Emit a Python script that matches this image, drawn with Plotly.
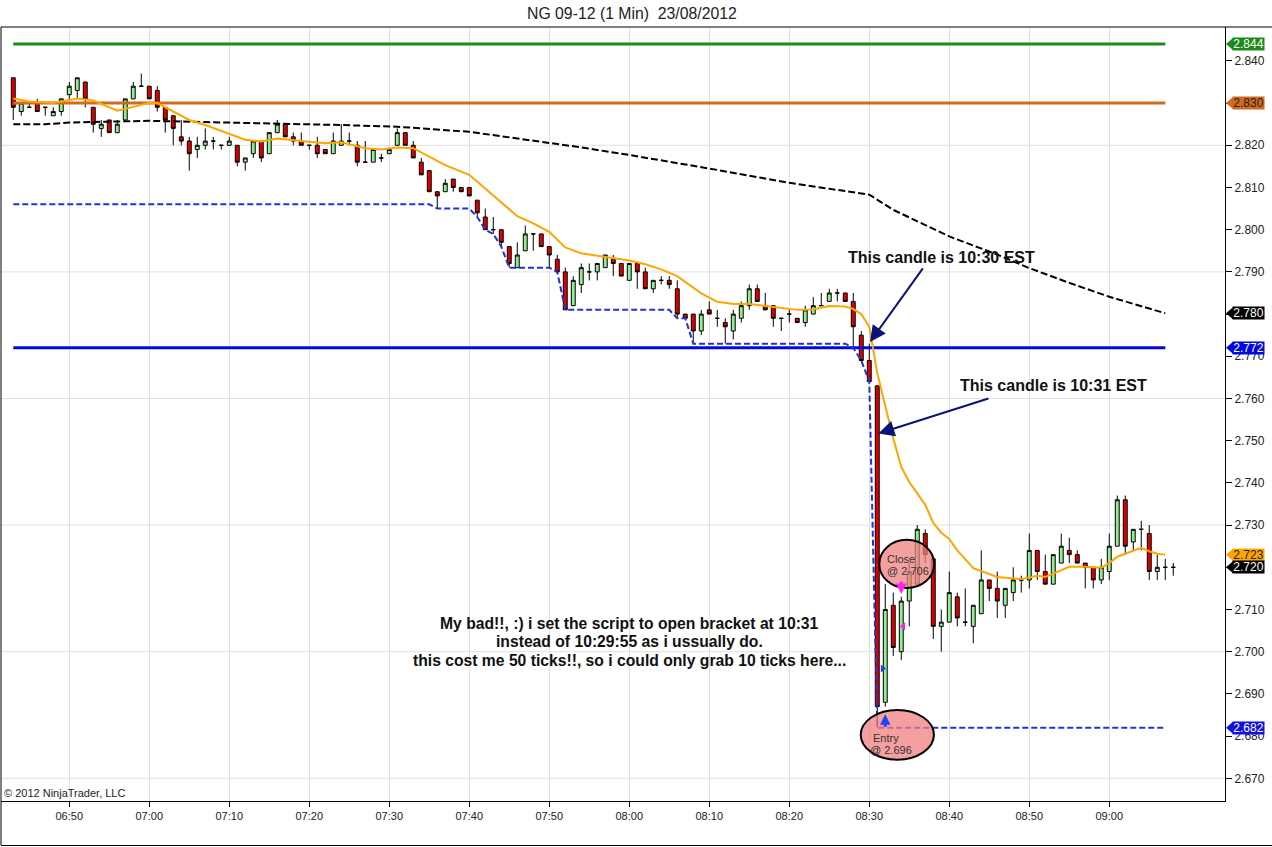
import pandas as pd
import plotly.graph_objects as go

DAY = "2012-08-23"
FIRST_BAR = "06:43"
TITLE = "NG 09-12 (1 Min)\u00a0 23/08/2012"

# ---------------- 1-minute bars 06:43 .. 09:08 ----------------
opens = [
    2.836, 2.828, 2.829, 2.830, 2.829, 2.827, 2.828, 2.832, 2.833, 2.835, 2.829, 2.824, 2.826, 2.823, 2.826, 2.831, 2.834,
    2.834, 2.833, 2.829, 2.827, 2.822, 2.821, 2.819, 2.820, 2.821, 2.820,
    2.820, 2.820, 2.816, 2.818, 2.821, 2.818, 2.823, 2.825, 2.822, 2.821,
    2.820, 2.820, 2.819, 2.818, 2.820, 2.821, 2.820, 2.816, 2.816, 2.817,
    2.818, 2.820, 2.823, 2.820, 2.816, 2.814, 2.809, 2.809, 2.812, 2.810,
    2.810, 2.807, 2.803, 2.800, 2.800, 2.796, 2.791, 2.795, 2.799, 2.799,
    2.796, 2.793, 2.790, 2.782, 2.787, 2.790, 2.790, 2.791, 2.793, 2.792,
    2.788, 2.792, 2.790, 2.786, 2.788, 2.788, 2.786, 2.780, 2.780, 2.776,
    2.781, 2.779, 2.778, 2.776, 2.779, 2.782, 2.786, 2.782, 2.782, 2.779,
    2.780, 2.779, 2.778, 2.780, 2.782, 2.783, 2.785, 2.785, 2.783, 2.775,
    2.769, 2.763, 2.688, 2.711, 2.700, 2.712, 2.716, 2.728, 2.722, 2.706,
    2.707, 2.713, 2.707, 2.706, 2.709, 2.717, 2.715, 2.711, 2.714, 2.717,
    2.717, 2.724, 2.719, 2.716, 2.721, 2.724, 2.723, 2.721, 2.720, 2.717,
    2.719, 2.725, 2.736, 2.726, 2.729, 2.728, 2.719, 2.720, 2.720,
]
highs = [
    2.836, 2.830, 2.830, 2.831, 2.829, 2.829, 2.831, 2.835, 2.836, 2.835, 2.829, 2.826, 2.826, 2.826, 2.831, 2.835, 2.837,
    2.834, 2.834, 2.829, 2.827, 2.826, 2.822, 2.822, 2.824, 2.822, 2.820,
    2.822, 2.820, 2.817, 2.821, 2.821, 2.823, 2.826, 2.825, 2.823, 2.823,
    2.820, 2.822, 2.819, 2.823, 2.825, 2.823, 2.821, 2.821, 2.819, 2.818,
    2.819, 2.824, 2.823, 2.821, 2.817, 2.814, 2.809, 2.812, 2.812, 2.810,
    2.810, 2.807, 2.805, 2.803, 2.800, 2.796, 2.797, 2.801, 2.799, 2.799,
    2.796, 2.794, 2.791, 2.789, 2.792, 2.792, 2.792, 2.794, 2.794, 2.792,
    2.792, 2.792, 2.791, 2.788, 2.789, 2.789, 2.788, 2.780, 2.780, 2.781,
    2.783, 2.781, 2.779, 2.781, 2.783, 2.787, 2.787, 2.785, 2.782, 2.779,
    2.781, 2.779, 2.782, 2.784, 2.785, 2.786, 2.786, 2.785, 2.785, 2.776,
    2.773, 2.763, 2.716, 2.714, 2.713, 2.721, 2.730, 2.729, 2.722, 2.710,
    2.719, 2.714, 2.715, 2.711, 2.724, 2.717, 2.719, 2.715, 2.720, 2.718,
    2.728, 2.724, 2.723, 2.723, 2.728, 2.727, 2.724, 2.721, 2.720, 2.722,
    2.728, 2.737, 2.737, 2.729, 2.731, 2.730, 2.723, 2.722, 2.721,
]
lows = [
    2.826, 2.827, 2.829, 2.828, 2.827, 2.827, 2.827, 2.831, 2.831, 2.829, 2.823, 2.822, 2.823, 2.823, 2.826, 2.831, 2.834,
    2.831, 2.828, 2.823, 2.820, 2.820, 2.814, 2.817, 2.819, 2.819, 2.819,
    2.820, 2.815, 2.814, 2.817, 2.816, 2.818, 2.823, 2.822, 2.820, 2.820,
    2.819, 2.817, 2.818, 2.818, 2.820, 2.820, 2.815, 2.816, 2.816, 2.816,
    2.818, 2.820, 2.820, 2.817, 2.813, 2.809, 2.805, 2.809, 2.809, 2.809,
    2.808, 2.803, 2.800, 2.799, 2.796, 2.791, 2.791, 2.795, 2.795, 2.796,
    2.791, 2.790, 2.781, 2.782, 2.785, 2.788, 2.788, 2.791, 2.789, 2.789,
    2.788, 2.786, 2.786, 2.785, 2.787, 2.786, 2.779, 2.779, 2.773, 2.775,
    2.780, 2.777, 2.773, 2.774, 2.778, 2.781, 2.783, 2.781, 2.777, 2.776,
    2.778, 2.778, 2.777, 2.780, 2.782, 2.783, 2.783, 2.783, 2.772, 2.769,
    2.764, 2.682, 2.687, 2.699, 2.698, 2.706, 2.716, 2.721, 2.703, 2.700,
    2.707, 2.706, 2.706, 2.702, 2.709, 2.712, 2.708, 2.708, 2.712, 2.714,
    2.715, 2.717, 2.716, 2.716, 2.721, 2.721, 2.721, 2.715, 2.715, 2.716,
    2.717, 2.725, 2.723, 2.724, 2.724, 2.717, 2.717, 2.717, 2.718,
]
closes = [
    2.829, 2.830, 2.829, 2.828, 2.829, 2.828, 2.831, 2.834, 2.836, 2.831, 2.825, 2.825, 2.823, 2.825, 2.831, 2.834, 2.834,
    2.831, 2.829, 2.826, 2.824, 2.821, 2.818, 2.820, 2.821, 2.821, 2.820,
    2.821, 2.816, 2.817, 2.821, 2.817, 2.823, 2.825, 2.822, 2.821, 2.820,
    2.820, 2.818, 2.818, 2.821, 2.821, 2.821, 2.816, 2.816, 2.819, 2.817,
    2.819, 2.823, 2.820, 2.817, 2.813, 2.809, 2.808, 2.811, 2.810, 2.809,
    2.808, 2.804, 2.800, 2.800, 2.797, 2.792, 2.794, 2.799, 2.799, 2.796,
    2.794, 2.790, 2.781, 2.788, 2.791, 2.790, 2.792, 2.794, 2.792, 2.789,
    2.792, 2.790, 2.786, 2.788, 2.788, 2.787, 2.780, 2.779, 2.776, 2.780,
    2.780, 2.779, 2.777, 2.780, 2.782, 2.786, 2.783, 2.781, 2.779, 2.779,
    2.780, 2.778, 2.781, 2.782, 2.782, 2.785, 2.785, 2.783, 2.777, 2.769,
    2.764, 2.687, 2.710, 2.701, 2.712, 2.719, 2.729, 2.723, 2.706, 2.707,
    2.714, 2.708, 2.707, 2.711, 2.717, 2.715, 2.712, 2.715, 2.717, 2.717,
    2.724, 2.719, 2.716, 2.723, 2.725, 2.723, 2.721, 2.720, 2.717, 2.720,
    2.725, 2.736, 2.725, 2.729, 2.729, 2.719, 2.720, 2.720, 2.720,
]

# ---------------- indicator plots ----------------
ema_times = ["06:43", "06:45", "06:48", "06:51", "06:53", "06:56", "06:58",
             "07:00", "07:01", "07:03", "07:05", "07:07", "07:10", "07:12", "07:14", "07:16", "07:19",
             "07:22", "07:24", "07:27", "07:29", "07:31", "07:33", "07:35", "07:37", "07:40", "07:42",
             "07:44", "07:46", "07:48", "07:50", "07:52", "07:54", "07:56", "07:58",
             "08:00", "08:02", "08:04", "08:06", "08:07", "08:09",
             "08:11", "08:13", "08:15", "08:17", "08:19", "08:21", "08:23", "08:25", "08:27", "08:28", "08:29",
             "08:30", "08:31", "08:32", "08:33", "08:34", "08:35", "08:36", "08:37", "08:38", "08:39", "08:40", "08:41",
             "08:43", "08:46", "08:49", "08:51", "08:52", "08:55", "08:57", "08:59",
             "09:00", "09:01", "09:04", "09:05", "09:06", "09:07"]
ema_vals = [2.8311, 2.8304, 2.8300, 2.8311, 2.8306, 2.8282, 2.8291,
            2.8301, 2.8300, 2.8280, 2.8260, 2.8248, 2.8227, 2.8213, 2.8209, 2.8216, 2.8210,
            2.8205, 2.8207, 2.8193, 2.8190, 2.8195, 2.8193, 2.8173, 2.8153, 2.8130, 2.8098,
            2.8066, 2.8032, 2.8015, 2.7995, 2.7958, 2.7944, 2.7938, 2.7933,
            2.7927, 2.7918, 2.7906, 2.7890, 2.7877, 2.7849,
            2.7829, 2.7824, 2.7824, 2.7819, 2.7814, 2.7810, 2.7811, 2.7819, 2.7818, 2.7812, 2.7800,
            2.7770, 2.7660, 2.7585, 2.7505, 2.7438, 2.7402, 2.7375, 2.7348, 2.7305, 2.7282, 2.7267, 2.7240,
            2.7198, 2.7177, 2.7172, 2.7180, 2.7177, 2.7201, 2.7201, 2.7199,
            2.7210, 2.7225, 2.7246, 2.7238, 2.7232, 2.7230]

sma_times = ["06:43", "06:47", "06:50", "06:55", "07:00", "07:07", "07:16", "07:24", "07:31", "07:40",
             "07:51", "07:54", "08:00", "08:10", "08:20", "08:26", "08:30", "08:33", "08:40", "08:46",
             "08:50", "08:55", "09:00", "09:07"]
sma_vals = [2.8250, 2.8250, 2.8254, 2.8256, 2.8258, 2.8255, 2.8252, 2.8248, 2.8244, 2.8232,
            2.8203, 2.8195, 2.8177, 2.8145, 2.8111, 2.8094, 2.8083, 2.8047, 2.7984, 2.7941,
            2.7909, 2.7874, 2.7841, 2.7802]

lowband_times = ["06:43", "07:35", "07:36", "07:40", "07:41", "07:42", "07:43", "07:44", "07:45", "07:50",
                 "07:51", "07:52", "08:05", "08:06", "08:07", "08:08", "08:27", "08:28", "08:29", "08:30",
                 "08:31", "09:07"]
lowband_vals = [2.806, 2.806, 2.805, 2.805, 2.803, 2.800, 2.799, 2.796, 2.791, 2.791,
                2.790, 2.781, 2.781, 2.779, 2.779, 2.773, 2.773, 2.772, 2.769, 2.764,
                2.682, 2.682]

level_prices = [2.844, 2.830, 2.772]
level_colors = ["#1a8a1a", "#d2691e", "#0008e0"]
level_text = ["#ffffff", "#222222", "#ffffff"]
level_span = ["06:43", "09:07"]

# trade
entry_bar, entry_price, entry_mark = "08:32", 2.696, 2.6852
exit_bar, exit_price, exit_mark = "08:34", 2.706, 2.7137

price_ticks = [round(2.670 + 0.01 * i, 3) for i in range(18)]
grid_levels = [2.670, 2.700, 2.730, 2.760, 2.790, 2.820]
time_ticks = ["06:50", "07:00", "07:10", "07:20", "07:30", "07:40", "07:50",
              "08:00", "08:10", "08:20", "08:30", "08:40", "08:50", "09:00"]

note_lines = ["My bad!!, :) i set the script to open bracket at 10:31",
              "instead of 10:29:55 as i ussually do.",
              "this cost me 50 ticks!!, so i could only grab 10 ticks here..."]
note_prices = [2.7068, 2.7023, 2.6978]

X_VIEW = ["06:41:28", "09:14:28"]
Y_VIEW = [2.66462, 2.84803]

NAVY = "#0a1478"
FONT = "Liberation Sans, Arial, sans-serif"


def ts(hm):
    return f"{DAY} {hm}"


bar_times = pd.date_range(ts(FIRST_BAR), periods=len(opens), freq="min")

fig = go.Figure()

fig.add_trace(go.Candlestick(
    x=bar_times, open=opens, high=highs, low=lows, close=closes,
    increasing=dict(line=dict(color="black", width=1), fillcolor="#90ee90"),
    decreasing=dict(line=dict(color="black", width=1), fillcolor="#dd0000"),
    whiskerwidth=0, hoverinfo="skip",
))

for p, c in zip(level_prices, level_colors):
    fig.add_trace(go.Scatter(x=[ts(t) for t in level_span], y=[p, p], mode="lines",
                             line=dict(color=c, width=3), hoverinfo="skip"))

fig.add_trace(go.Scatter(x=[ts(t) for t in sma_times], y=sma_vals, mode="lines",
                         line=dict(color="black", width=2, dash="7px,3px"), hoverinfo="skip"))
fig.add_trace(go.Scatter(x=[ts(t) for t in lowband_times], y=lowband_vals, mode="lines",
                         line=dict(color="#2430d8", width=2, dash="6px,3px"), hoverinfo="skip"))
fig.add_trace(go.Scatter(x=[ts(t) for t in ema_times], y=ema_vals, mode="lines",
                         line=dict(color="#ffa500", width=2), hoverinfo="skip"))

# execution triangles
fig.add_trace(go.Scatter(x=[pd.Timestamp(ts(entry_bar)) - pd.Timedelta(seconds=20)], y=[entry_price],
                         mode="markers", marker=dict(symbol="triangle-right", size=7, color="#2040ff"),
                         hoverinfo="skip"))
fig.add_trace(go.Scatter(x=[pd.Timestamp(ts(exit_bar)) + pd.Timedelta(seconds=15)], y=[exit_price],
                         mode="markers", marker=dict(symbol="triangle-left", size=7, color="#ff22ee"),
                         hoverinfo="skip"))

# horizontal grid
for g in grid_levels:
    fig.add_shape(type="line", xref="paper", yref="y", x0=0, x1=1, y0=g, y1=g,
                  line=dict(color="#e0e0e0", width=1), layer="below")

# frame
fig.add_shape(type="line", xref="paper", yref="paper", x0=0, x1=1.04, y0=1, y1=1,
              line=dict(color="black", width=1))
fig.add_shape(type="line", xref="paper", yref="paper", x0=0, x1=0, y0=-0.0575, y1=1,
              line=dict(color="black", width=1))
fig.add_shape(type="line", xref="paper", yref="paper", x0=0, x1=1.04, y0=-0.0575, y1=-0.0575,
              line=dict(color="black", width=1))

# ellipses
ell_fill = "rgba(240,128,128,0.75)"
fig.add_shape(type="circle", xref="x", yref="y", x0=ts("08:31:15"), x1=ts("08:38:07"),
              y0=2.7151, y1=2.7265, fillcolor=ell_fill, line=dict(color="black", width=2))
fig.add_shape(type="circle", xref="x", yref="y", x0=ts("08:28:56"), x1=ts("08:38:05"),
              y0=2.6744, y1=2.6862, fillcolor=ell_fill, line=dict(color="black", width=2))

for txt, t, p in [("Close", "08:32:09", 2.7220), (f"@ {exit_price:.3f}", "08:32:05", 2.7191),
                  ("Entry", "08:30:22", 2.6796), (f"@ {entry_price:.3f}", "08:30:00", 2.6768)]:
    fig.add_annotation(x=ts(t), y=p, text=txt, showarrow=False, xanchor="left", yanchor="middle",
                       font=dict(size=11, color="#333333", family=FONT), borderpad=0)

# execution arrows
fig.add_annotation(x=ts(entry_bar), y=entry_mark, ax=0, ay=14, text="", showarrow=True,
                   arrowhead=2, arrowsize=0.7, arrowwidth=3, arrowcolor="#2040ff", standoff=0)
fig.add_annotation(x=ts(exit_bar), y=exit_mark, ax=0, ay=-14, text="", showarrow=True,
                   arrowhead=2, arrowsize=0.7, arrowwidth=3, arrowcolor="#ff22ee", standoff=0)

# pointer arrows + notes
fig.add_annotation(x=ts("08:30:05"), y=2.7734, ax=ts("08:36:50"), ay=2.7912, axref="x", ayref="y",
                   text="", showarrow=True, arrowhead=2, arrowsize=1.6, arrowwidth=2,
                   arrowcolor=NAVY, standoff=0)
fig.add_annotation(x=ts("08:31:08"), y=2.7517, ax=ts("08:45:05"), ay=2.7601, axref="x", ayref="y",
                   text="", showarrow=True, arrowhead=2, arrowsize=1.6, arrowwidth=2,
                   arrowcolor=NAVY, standoff=0)
fig.add_annotation(x=ts("08:38:58"), y=2.7935, text="<b>This candle is 10:30 EST</b>", showarrow=False,
                   font=dict(size=16, color="#111111", family=FONT))
fig.add_annotation(x=ts("08:52:58"), y=2.7630, text="<b>This candle is 10:31 EST</b>", showarrow=False,
                   font=dict(size=16, color="#111111", family=FONT))
for line, p in zip(note_lines, note_prices):
    fig.add_annotation(x=ts("08:00:05"), y=p, text=f"<b>{line}</b>", showarrow=False,
                       font=dict(size=15.7, color="#111111", family=FONT))

# title & copyright
fig.add_annotation(xref="paper", yref="paper", x=0.5159, y=1.018, text=TITLE, showarrow=False,
                   yanchor="middle", font=dict(size=15.8, color="#222222", family=FONT))
fig.add_annotation(xref="paper", yref="paper", x=0, y=0, xanchor="left", yanchor="bottom", xshift=1,
                   text="\u00a9 2012 NinjaTrader, LLC", showarrow=False,
                   font=dict(size=11, color="#222222", family=FONT))

# right-axis value markers
markers = [(level_prices[0], level_colors[0], level_text[0]),
           (level_prices[1], level_colors[1], level_text[1]),
           (sma_vals[-1], "#000000", "#ffffff"),
           (level_prices[2], level_colors[2], level_text[2]),
           (ema_vals[-1], "#ffa500", "#222222"),
           (closes[-1], "#000000", "#ffffff"),
           (lowband_vals[-1], "#1010e8", "#ffffff")]
for val, bg, fg in markers:
    fig.add_shape(type="path", xref="paper", yref="y", xsizemode="pixel", ysizemode="pixel",
                  xanchor=1, yanchor=val, path="M 1,0 L 8,6 L 8,-6 Z",
                  fillcolor=bg, line=dict(width=0))
    fig.add_annotation(xref="paper", yref="y", x=1, y=val, xanchor="left", yanchor="middle", xshift=7,
                       text=f"{val:.3f}", showarrow=False, bgcolor=bg, width=31, height=12, borderpad=0,
                       font=dict(size=12, color=fg, family=FONT))

fig.update_layout(
    width=1272, height=847,
    margin=dict(l=1, r=47, t=27, b=46),
    plot_bgcolor="white", paper_bgcolor="white",
    showlegend=False,
    font=dict(family=FONT, size=11, color="#222222"),
    xaxis=dict(type="date", range=[ts(X_VIEW[0]), ts(X_VIEW[1])], tickformat="%H:%M",
               tickvals=[ts(t) for t in time_ticks], ticks="outside", ticklen=5, tickcolor="black",
               showgrid=True, gridcolor="#e0e0e0", gridwidth=1, showline=True, linecolor="black",
               linewidth=1, zeroline=False, rangeslider=dict(visible=False),
               tickfont=dict(size=11, color="#222222")),
    yaxis=dict(side="right", range=Y_VIEW, tickvals=price_ticks, tickformat=".3f",
               ticks="outside", ticklen=6, tickcolor="black", showgrid=False, showline=True,
               linecolor="black", linewidth=1, zeroline=False,
               tickfont=dict(size=12, color="#222222")),
)

fig.write_html("out.html", config={"displayModeBar": False},
               post_script="document.body.style.margin='0';document.body.style.overflow='hidden';")
